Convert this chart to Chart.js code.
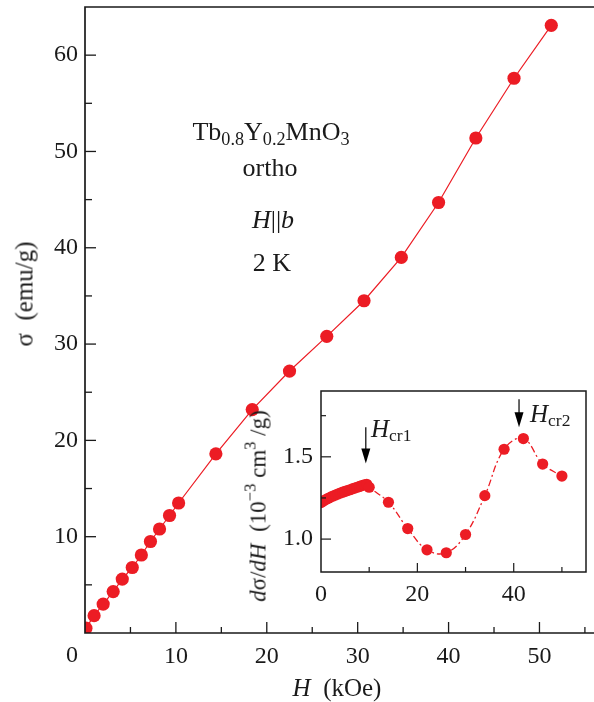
<!DOCTYPE html>
<html>
<head>
<meta charset="utf-8">
<script src="https://cdn.jsdelivr.net/npm/chart.js@4.4.1/dist/chart.umd.min.js"></script>
<style>
body { margin: 0; background: #fff; }
#wrap { position: relative; width: 594px; height: 702px; overflow: hidden;
        font-family: 'Liberation Serif', 'Times New Roman', serif; color: #1a1a1a; }
canvas { position: absolute; left: 0; top: 0; }
.lbl { position: absolute; white-space: nowrap; line-height: 1; }
.lbl sub { font-size: 0.7em; vertical-align: baseline; position: relative; top: 0.25em; }
.lbl sup { font-size: 0.72em; vertical-align: baseline; position: relative; top: -0.6em; }
.c { transform: translateX(-50%); }
.rot { transform: translate(-50%, -50%) rotate(-90deg); }
</style>
</head>
<body>
<div id="wrap">
  <canvas id="mainChart" width="594" height="702"></canvas>
  <canvas id="insetChart" width="594" height="702"></canvas>

  <div class="lbl c" style="left:271px; top:119px; font-size:26px;">Tb<sub>0.8</sub>Y<sub>0.2</sub>MnO<sub>3</sub></div>
  <div class="lbl c" style="left:270px; top:155px; font-size:26px;">ortho</div>
  <div class="lbl c" style="left:273px; top:207px; font-size:26px;"><i>H</i>||<i>b</i></div>
  <div class="lbl c" style="left:272px; top:250px; font-size:26px;">2 K</div>

  <div class="lbl" style="left:371px; top:416px; font-size:25px;"><i>H</i><sub>cr1</sub></div>
  <div class="lbl" style="left:530px; top:401px; font-size:25px;"><i>H</i><sub>cr2</sub></div>

  <div class="lbl c" style="left:72px; top:642px; font-size:24px;">0</div>
  <div class="lbl c" style="left:337px; top:675px; font-size:25px;"><i>H</i>&nbsp;&nbsp;(kOe)</div>
  <div class="lbl rot" style="left:24px; top:294px; font-size:25px;">σ&nbsp;&nbsp;(emu/g)</div>
  <div class="lbl rot" style="left:258px; top:506px; font-size:23px;"><i>d</i>σ/<i>dH</i>&nbsp;&nbsp;(10<sup>−3</sup>&nbsp;cm<sup>3</sup>&nbsp;/g)</div>
</div>

<script>
// main curve: sigma vs H
const mainH = [0.1, 1.0, 2.0, 3.1, 4.1, 5.2, 6.2, 7.2, 8.2, 9.3, 10.3, 14.4, 18.4, 22.5, 26.6, 30.7, 34.8, 38.9, 43.0, 47.2, 51.3];
const mainSigma = [0.5, 1.8, 3.0, 4.3, 5.6, 6.8, 8.1, 9.5, 10.8, 12.2, 13.5, 18.6, 23.2, 27.2, 30.8, 34.5, 39.0, 44.7, 51.4, 57.6, 63.1];

// inset: dsigma/dH vs H
const insetH = [0, 0.5, 1, 1.5, 2, 2.5, 3, 3.5, 4, 4.5, 5, 5.5, 6, 6.5, 7, 7.5, 8, 8.5, 9, 9.5, 10,
                14, 18, 22, 26, 30, 34, 38, 42, 46, 50];
const insetDeriv = [1.222, 1.232, 1.240, 1.248, 1.255, 1.262, 1.268, 1.274, 1.280, 1.285, 1.290,
                    1.295, 1.300, 1.305, 1.310, 1.315, 1.320, 1.325, 1.330, 1.333, 1.315,
                    1.224, 1.064, 0.935, 0.917, 1.028, 1.264, 1.546, 1.611, 1.456, 1.383];

// tick labels
const mainXLabels = [10, 20, 30, 40, 50];
const mainYLabels = [10, 20, 30, 40, 50, 60];
const insetXLabels = [0, 20, 40];
const insetYLabels = [1.0, 1.5];

// critical field arrows (H, top value, tip value)
const crArrows = [[9.3, 1.68, 1.46], [41.1, 1.85, 1.68]];

const RED = '#ec1c24';
const INK = '#1a1a1a';
const FONT = "'Liberation Serif', 'Times New Roman', serif";

function tickLine(ctx, x1, y1, x2, y2) {
    ctx.beginPath();
    ctx.moveTo(x1, y1);
    ctx.lineTo(x2, y2);
    ctx.stroke();
}

// fixed scale sizes, no label overhang padding
function fixSize(w, h) {
    return s => {
        if (w !== null) s.width = w;
        if (h !== null) s.height = h;
        s.paddingTop = s.paddingBottom = s.paddingLeft = s.paddingRight = 0;
    };
}

// axes and inward ticks for the main plot
const mainAxes = {
    id: 'mainAxes',
    afterDatasetsDraw(chart) {
        const {ctx, chartArea: a, scales: {x, y}} = chart;
        ctx.save();
        ctx.strokeStyle = INK;
        ctx.lineWidth = 1.7;
        ctx.beginPath();
        ctx.moveTo(a.right, a.top);
        ctx.lineTo(a.left, a.top);
        ctx.lineTo(a.left, a.bottom);
        ctx.lineTo(a.right, a.bottom);
        ctx.stroke();
        ctx.lineWidth = 1.3;
        for (let v = 5; v <= 55; v += 5) {
            const px = x.getPixelForValue(v);
            tickLine(ctx, px, a.bottom, px, a.bottom - (v % 10 === 0 ? 11 : 6));
        }
        for (let v = 5; v <= 60; v += 5) {
            const py = y.getPixelForValue(v);
            tickLine(ctx, a.left, py, a.left + (v % 10 === 0 ? 11 : 7), py);
        }
        ctx.restore();
    }
};

// frame, ticks and arrows for the inset
const insetAxes = {
    id: 'insetAxes',
    afterDatasetsDraw(chart) {
        const {ctx, chartArea: a, scales: {x, y}} = chart;
        ctx.save();
        ctx.strokeStyle = INK;
        ctx.lineWidth = 1.5;
        ctx.strokeRect(a.left, a.top, a.right - a.left, a.bottom - a.top);
        ctx.lineWidth = 1.2;
        for (let v = 10; v <= 50; v += 10) {
            const px = x.getPixelForValue(v);
            tickLine(ctx, px, a.bottom, px, a.bottom - (v % 20 === 0 ? 9 : 5));
        }
        [1.0, 1.25, 1.5, 1.75].forEach(v => {
            const py = y.getPixelForValue(v);
            tickLine(ctx, a.left, py, a.left + (insetYLabels.includes(v) ? 10 : 5), py);
        });
        // arrows
        ctx.fillStyle = '#000';
        ctx.strokeStyle = '#000';
        crArrows.forEach(([h, from, to]) => {
            const px = x.getPixelForValue(h);
            const y0 = y.getPixelForValue(from);
            const y1 = y.getPixelForValue(to);
            tickLine(ctx, px, y0, px, y1 - 12);
            ctx.beginPath();
            ctx.moveTo(px - 4.5, y1 - 15);
            ctx.lineTo(px + 4.5, y1 - 15);
            ctx.lineTo(px, y1);
            ctx.closePath();
            ctx.fill();
        });
        ctx.restore();
    }
};

const tickFont = {family: FONT, size: 24};

new Chart(document.getElementById('mainChart'), {
    type: 'line',
    data: {
        datasets: [{
            data: mainH.map((h, i) => ({x: h, y: mainSigma[i]})),
            borderColor: RED,
            backgroundColor: RED,
            borderWidth: 1.2,
            pointRadius: 6.6,
            pointBorderWidth: 0,
            tension: 0,
            clip: 0
        }]
    },
    options: {
        responsive: false,
        animation: false,
        devicePixelRatio: 1,
        layout: {autoPadding: false, padding: {top: 7, right: 0, left: 0, bottom: 0}},
        plugins: {legend: {display: false}, tooltip: {enabled: false}},
        scales: {
            x: {
                type: 'linear', min: 0, max: 56,
                grid: {display: false, drawTicks: false},
                border: {display: false},
                ticks: {
                    stepSize: 5, includeBounds: false, maxRotation: 0, autoSkip: false,
                    padding: 9, color: INK, font: tickFont,
                    callback: v => mainXLabels.includes(v) ? String(v) : ''
                },
                afterFit: fixSize(null, 69)
            },
            y: {
                type: 'linear', min: 0, max: 65,
                grid: {display: false, drawTicks: false},
                border: {display: false},
                ticks: {
                    stepSize: 5, includeBounds: false, autoSkip: false,
                    padding: 7, color: INK, font: tickFont,
                    callback: v => mainYLabels.includes(v) ? String(v) : ''
                },
                afterFit: fixSize(85, null)
            }
        }
    },
    plugins: [mainAxes]
});

new Chart(document.getElementById('insetChart'), {
    type: 'line',
    data: {
        datasets: [{
            data: insetH.map((h, i) => ({x: h, y: insetDeriv[i]})),
            borderColor: RED,
            backgroundColor: RED,
            borderWidth: 1.3,
            borderDash: [7, 3, 2, 3],
            pointRadius: 5.6,
            pointBorderWidth: 0,
            tension: 0.4,
            clip: 0
        }]
    },
    options: {
        responsive: false,
        animation: false,
        devicePixelRatio: 1,
        layout: {autoPadding: false, padding: {top: 391, right: 8, left: 0, bottom: 0}},
        plugins: {legend: {display: false}, tooltip: {enabled: false}},
        scales: {
            x: {
                type: 'linear', min: 0, max: 55,
                grid: {display: false, drawTicks: false},
                border: {display: false},
                ticks: {
                    stepSize: 10, includeBounds: false, maxRotation: 0, autoSkip: false,
                    padding: 8, color: INK, font: tickFont,
                    callback: v => insetXLabels.includes(v) ? String(v) : ''
                },
                afterFit: fixSize(null, 130)
            },
            y: {
                type: 'linear', min: 0.8, max: 1.9,
                grid: {display: false, drawTicks: false},
                border: {display: false},
                ticks: {
                    stepSize: 0.25, includeBounds: false, autoSkip: false,
                    padding: 8, color: INK, font: tickFont,
                    callback: v => insetYLabels.some(l => Math.abs(l - v) < 1e-6) ? v.toFixed(1) : ''
                },
                afterFit: fixSize(321, null)
            }
        }
    },
    plugins: [insetAxes]
});
</script>
</body>
</html>
